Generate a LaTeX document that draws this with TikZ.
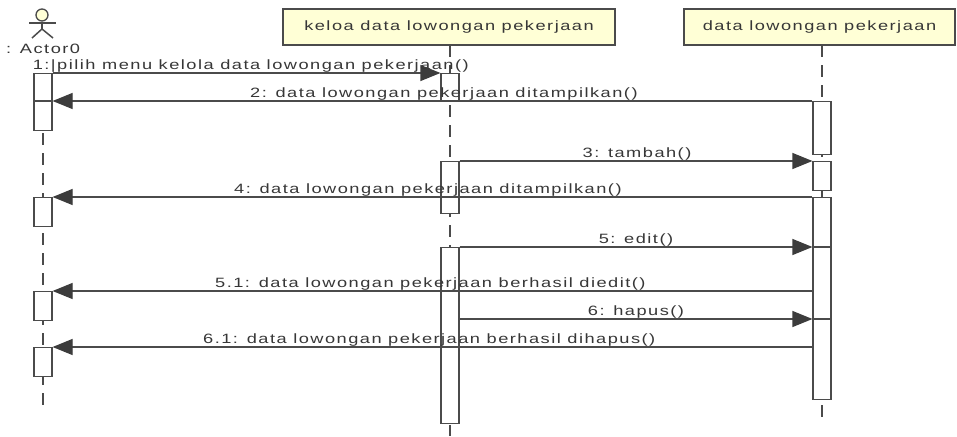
\documentclass[tikz,border=0pt]{standalone}
\usepackage{fontspec}
\setmainfont{Liberation Sans}[FakeStretch=1.35,LetterSpace=11]
\usetikzlibrary{arrows.meta}
\definecolor{ln}{RGB}{75,75,75}
\definecolor{tx}{RGB}{55,55,55}
\definecolor{hd}{RGB}{255,255,214}
\definecolor{arr}{RGB}{60,60,60}
\tikzset{
  lbl/.style={font=\fontsize{13.5}{15}\selectfont, text=tx, inner sep=0pt, anchor=base west},
  lblc/.style={lbl, anchor=base},
  objbox/.style={draw=ln, line width=1.8pt, fill=hd, inner sep=0pt, minimum height=36pt,
     font=\fontsize{13.5}{15}\selectfont, text=tx},
  act/.style={draw=ln, line width=1.2pt, fill=white, inner sep=0pt, minimum width=18pt, anchor=north},
  msgline/.style={draw=ln, line width=1.2pt},
  msg/.style={msgline, -{Triangle[length=20pt,width=16pt,fill=arr,color=arr]}},
  life/.style={draw=ln, line width=1.4pt, dash pattern=on 12pt off 8pt},
  actorline/.style={draw=ln, line width=1.5pt},
}
\begin{document}
\begin{tikzpicture}[x=1pt,y=-1pt]
\useasboundingbox (0,0) rectangle (957,436);
\fill[white] (0,0) rectangle (957,436);

% objects
\node[objbox, minimum width=332pt] (kb) at (449,27) {keloa data lowongan pekerjaan};
\node[objbox, minimum width=271pt] (db) at (819.5,27) {data lowongan pekerjaan};

% actor
\node[draw=ln, line width=1.3pt, fill=hd, circle, minimum size=12pt, inner sep=0pt] (head) at (42,15) {};
\coordinate (armL) at (29,23);
\coordinate (armR) at (56,23);
\coordinate (hip) at (42,29);
\coordinate (legL) at (32,38);
\coordinate (legR) at (53,38);
\draw[actorline] (armL) -- (armR);
\draw[actorline] (head.south) -- (hip);
\draw[actorline] (legL) -- (hip) -- (legR);
\node[lbl] (actname) at (6,53) {: Actor0};

% lifelines
\coordinate (atop) at (43,73);
\coordinate (aend) at (43,407);
\coordinate (ktop) at (450,45);
\coordinate (kend) at (450,436);
\coordinate (dtop) at (822,45);
\coordinate (dend) at (822,417);
\draw[life] (atop) -- (aend);
\draw[life] (ktop) -- (kend);
\draw[life] (dtop) -- (dend);

% activation boxes
\node[act, minimum height=57pt] (a0) at (43,73) {};
\node[act, minimum height=29pt] (a1) at (43,197) {};
\node[act, minimum height=29pt] (a2) at (43,291) {};
\node[act, minimum height=29pt] (a3) at (43,347) {};
\node[act, minimum height=28pt] (k0) at (450,73) {};
\node[act, minimum height=52pt] (k1) at (450,161) {};
\node[act, minimum height=176pt] (k2) at (450,247) {};
\node[act, minimum height=53pt] (d0) at (822,101) {};
\node[act, minimum height=29pt] (d1) at (822,161) {};
\node[act, minimum height=202pt] (d2) at (822,197) {};

% message rows
\coordinate (y51) at (0,291);
\coordinate (y6) at (0,319);
\coordinate (y61) at (0,347);

% messages
\draw[msg] (a0.north east) -- (k0.north west);
\draw[msg] (d0.north west) -- (a0.east |- d0.north);
\draw[msgline] (a0.east |- d0.north) -- (a0.west |- d0.north);
\draw[msg] (k1.north east) -- (d1.north west);
\draw[msg] (d2.north west) -- (a1.north east);
\draw[msg] (k2.north east) -- (d2.west |- k2.north);
\draw[msgline] (d2.west |- k2.north) -- (d2.east |- k2.north);
\draw[msg] (d2.west |- y51) -- (a2.north east);
\draw[msg] (k2.east |- y6) -- (d2.west |- y6);
\draw[msgline] (d2.west |- y6) -- (d2.east |- y6);
\draw[msg] (d2.west |- y61) -- (a3.north east);

% labels
\node[lbl, anchor=base east] (l1) at (469,69) {1:|pilih menu kelola data lowongan pekerjaan()};
\node[lbl] (l2) at (250,97) {2: data lowongan pekerjaan ditampilkan()};
\node[lblc] (l3) at (637,157) {3: tambah()};
\node[lbl] (l4) at (234,193) {4: data lowongan pekerjaan ditampilkan()};
\node[lblc] (l5) at (636,243) {5: edit()};
\node[lbl] (l51) at (215,287) {5.1: data lowongan pekerjaan berhasil diedit()};
\node[lblc] (l6) at (636,315) {6: hapus()};
\node[lbl] (l61) at (203,343) {6.1: data lowongan pekerjaan berhasil dihapus()};
\end{tikzpicture}
\end{document}
